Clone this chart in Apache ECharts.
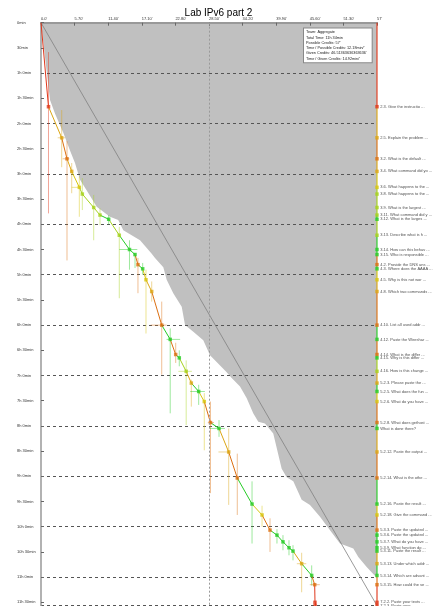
<!DOCTYPE html>
<html>
<head>
<meta charset="utf-8">
<title>Lab IPv6 part 2</title>
<script src="https://cdn.jsdelivr.net/npm/echarts@6/dist/echarts.min.js"></script>
<style>
  html, body { margin: 0; padding: 0; background: #fff; }
  #chart { width: 437px; height: 606px; }
</style>
</head>
<body>
<div id="chart"></div>
<script>
// question labels shown on the right edge
var questions = [
  '2.3. Give the instructio ...', '2.5. Explain the problem ...', '3.2. What is the default ...',
  '3.4. What command did yo ...', '3.6. What happens to the ...', '3.8. What happens to the ...',
  '3.9. What is the largest ...', '3.11. What command did y ...', '3.12. What is the larges ...',
  '3.13. Describe what is h ...', '3.14. How can this behav ...', '3.15. Who is responsible ...',
  '4.2. Provide the DNS ans ...', '4.3. Where does the AAAA ...', '4.5. Why is this not wor ...',
  '4.8. Which two commands ...', '4.10. List all used addr ...', '4.12. Paste the Wireshar ...',
  '4.14. What is the differ ...', '4.15. Why is this differ ...', '4.16. How is this change ...',
  '5.2.3. Please paste the ...', '5.2.5. What does the fun ...', '5.2.6. What do you have ...',
  '5.2.8. What does gethost ...', 'What is done there?', '5.2.12. Paste the output ...',
  '5.2.14. What is the othe ...', '5.2.16. Paste the result ...', '5.2.18. Give the command ...',
  '5.3.3. Paste the updated ...', '5.3.6. Paste the updated ...', '5.3.7. What do you have ...',
  '5.3.9. What function do ...', '5.3.11. Paste the result ...', '5.3.13. Under which addr ...',
  '5.3.14. Which are advant ...', '5.3.15. How could the se ...', '7.2.2. Paste your texts ...',
  '7.2.3. Paste your ...'
]
// cumulative credits and cumulative time (minutes) per answered question
var credits = [1.27, 3.51, 4.41, 5.21, 6.5, 7.01, 8.94, 10.01, 11.48, 13.28, 15.01, 15.95, 16.45, 17.25,
  17.81, 18.78, 20.48, 21.92, 22.85, 23.46, 24.63, 25.5, 26.75, 27.7, 28.75, 30.2, 31.84, 33.3, 35.8,
  37.5, 38.85, 40.03, 41.05, 42.07, 42.75, 44.22, 45.92, 46.43, 46.48, 46.51]
var minutes = [100, 137, 162, 177, 196, 204, 220, 229, 234, 253, 270, 276, 288, 293, 306, 320, 360,
  377, 395, 399, 415, 429, 439, 451, 476, 483, 511, 542, 573, 586, 604, 610, 618, 625, 629, 644, 658,
  669, 690, 694]
// spread of the teams (time / credits)
var timeLow = [35, 104, 141, 167, 183, 185, 205, 221, 229, 243, 259, 274, 280, 286, 294, 308, 332,
  364, 381, 390, 402, 425, 431, 441, 451, 473, 483, 513, 546, 575, 590, 603, 610, 616, 622, 631, 646,
  null, null, null]
var timeHigh = [227, 172, 283, 203, 231, 223, 259, 241, 240, 328, 294, 292, 322, 300, 370, 332, 419,
  465, 405, 409, 479, 457, 455, 509, 560, 493, 574, 586, 620, 600, 630, 620, 628, 634, 640, 678, 670,
  null, null, null]
var creditLow = [null, 2.83, 3.68, null, 5.2, null, null, null, null, null, 13.28, null, null, null,
  null, null, 18.6, 21.3, null, null, 23.3, null, 25.3, null, 28.3, 28.67, 30.1, null, null, null,
  null, null, null, null, null, 43.4, null, 45.6, null, null]
var creditHigh = [null, 4.07, 4.8, null, 6.6, null, null, null, null, null, 16.34, null, null, null,
  null, null, 21.3, 23.6, null, null, 25.6, null, 27.8, null, 29.35, 31.2, 32.06, null, null, null,
  null, null, null, null, null, 45, null, 47.3, null, null]

var R = '#e0381c', O = '#dc7012', YO = '#dca614', Y = '#d8c60e', YG = '#a6d21c', G = '#26cc26'
var colors = [R, YO, O, YO, Y, YG, YG, YG, G, YG, G, G, O, G, Y, YO, O, G, O, G, YG, YO, G, Y, O, G,
  YO, O, G, Y, O, G, G, G, G, YO, G, O, R, R]

// best-team boundary of the gray area
var bestCredits = [0, 1.53, 2.37, 3.78, 4.92, 5.77, 6.62, 7.97, 9.45, 11.7, 13.1, 13.96, 16.8, 18.78,
  19.34, 20.75, 21.32, 22.44, 23.87, 24.43, 25.84, 27.53, 28.67, 31.5, 32.35, 33.76, 34.9, 36.0,
  36.86, 38.0, 39.4, 40.83, 41.68, 42.8, 44.22, 45.63, 47.33, 49.0, 50.72, 52.98, 53.83, 55.25, 57]
var bestMinutes = [0, 92, 108, 131, 152, 167, 187, 202, 219, 231, 235, 247, 259, 275, 280, 291, 306,
  322, 338, 360, 368, 378, 396, 416, 423, 433, 447, 465, 475, 477, 489, 531, 541, 546, 568, 574, 588,
  604, 620, 626, 636, 648, 661]

var possibleCredits = 57
var totalMinutes = 694
var xTicks = 5.7
var yTicks = 30
var hourLines = 60
var infoLines = [
  'Team: Aggregate',
  'Total Time: 11h 34min',
  "Possible Credits: 57'",
  "Time / Possible Credits: 12.18min/'",
  "Given Credits: 46.51363636363636'",
  "Time / Given Credits: 14.92min/'"
]

function fmtTime(m) {
  var h = Math.floor(m / 60)
  var r = Math.round(m % 60)
  return h ? h + 'h ' + r + 'min' : r + 'min'
}

var chart = echarts.init(document.getElementById('chart'))

var points = credits.map(function(c, i) { return [c, minutes[i]] })
var pathSegs = credits.map(function(c, i) {
  var from = i === 0 ? [0, 0] : [credits[i - 1], minutes[i - 1]]
  return { coords: [from, [c, minutes[i]]], lineStyle: { color: colors[i] } }
})
var edgeSegs = minutes.map(function(m, i) {
  var from = i === 0 ? 0 : minutes[i - 1]
  return { coords: [[possibleCredits, from], [possibleCredits, m]], lineStyle: { color: colors[i] } }
})

var font = 'Liberation Sans, Arial, sans-serif'

chart.setOption({
  animation: false,
  backgroundColor: '#fff',
  title: {
    text: 'Lab IPv6 part 2',
    left: 'center',
    top: 3,
    textStyle: { fontSize: 10, fontWeight: 'normal', color: '#000', fontFamily: font }
  },
  grid: { left: 41, top: 22.7, width: 336, height: 583, outerBoundsMode: 'none' },
  xAxis: {
    type: 'value',
    position: 'top',
    min: 0,
    max: possibleCredits,
    interval: xTicks,
    axisLine: { lineStyle: { color: '#999', width: 2 } },
    axisTick: { inside: true, length: 3, lineStyle: { color: '#666' } },
    axisLabel: {
      fontSize: 4, color: '#333', margin: 2, align: 'left', fontFamily: font,
      formatter: function(v) {
        if (v === 0) return "0.0'"
        if (Math.abs(v - possibleCredits) < 0.001) return possibleCredits + "'"
        return v.toFixed(2) + "'"
      }
    },
    splitLine: { show: false }
  },
  yAxis: [
    {
      type: 'value',
      inverse: true,
      min: 0,
      max: totalMinutes,
      interval: yTicks,
      axisLine: { show: true, lineStyle: { color: '#999', width: 1.5 } },
      axisTick: { inside: true, length: 3, lineStyle: { color: '#666' } },
      axisLabel: { fontSize: 4, color: '#333', align: 'left', margin: 24, fontFamily: font,
        showMaxLabel: false, formatter: fmtTime },
      splitLine: { show: false }
    },
    {
      type: 'value',
      inverse: true,
      min: 0,
      max: totalMinutes,
      interval: hourLines,
      axisLine: { show: false },
      axisTick: { show: false },
      axisLabel: { show: false },
      splitLine: { show: true, lineStyle: { color: '#555', type: [3, 3], width: 1 } }
    }
  ],
  graphic: [{
    type: 'text',
    left: 303,
    top: 27.5,
    z: 100,
    style: {
      text: infoLines.join('\n'),
      fontSize: 3.8,
      lineHeight: 5.3,
      fontFamily: font,
      fill: '#222',
      backgroundColor: '#fff',
      borderColor: '#888',
      borderWidth: 1,
      padding: [1, 5, 1, 2]
    }
  }],
  series: [
    {
      // gray area above the best-team curve
      type: 'line',
      z: -1,
      data: bestCredits.map(function(c, i) { return [c, bestMinutes[i]] }),
      symbol: 'none',
      lineStyle: { width: 0 },
      areaStyle: { color: '#c0c0c0', opacity: 1, origin: 'start' },
      silent: true
    },
    {
      // constant pace reference line
      type: 'line',
      z: 1,
      data: [[0, 0], [possibleCredits, totalMinutes]],
      symbol: 'none',
      lineStyle: { color: '#808080', width: 0.8 },
      markLine: {
        silent: true,
        symbol: 'none',
        label: { show: false },
        lineStyle: { color: '#999', type: [2, 2], width: 1 },
        data: [{ xAxis: possibleCredits / 2 }]
      }
    },
    {
      // error bars
      type: 'custom',
      z: 2,
      data: points,
      renderItem: function(params, api) {
        var i = params.dataIndex
        var kids = []
        if (timeLow[i] != null) {
          var a = api.coord([credits[i], timeLow[i]])
          var b = api.coord([credits[i], timeHigh[i]])
          kids.push({ type: 'line', shape: { x1: a[0], y1: a[1], x2: b[0], y2: b[1] },
            style: { stroke: colors[i], lineWidth: 1, opacity: 0.45 } })
        }
        if (creditLow[i] != null) {
          var c = api.coord([creditLow[i], minutes[i]])
          var d = api.coord([creditHigh[i], minutes[i]])
          kids.push({ type: 'line', shape: { x1: c[0], y1: c[1], x2: d[0], y2: d[1] },
            style: { stroke: colors[i], lineWidth: 1, opacity: 0.45 } })
        }
        return { type: 'group', children: kids }
      }
    },
    {
      type: 'lines',
      coordinateSystem: 'cartesian2d',
      z: 3,
      data: pathSegs,
      lineStyle: { width: 1, opacity: 1 }
    },
    {
      type: 'lines',
      coordinateSystem: 'cartesian2d',
      z: 3,
      data: edgeSegs,
      lineStyle: { width: 1.5, opacity: 0.75 }
    },
    {
      type: 'scatter',
      z: 4,
      symbol: 'rect',
      symbolSize: 3.5,
      data: points.map(function(p, i) { return { value: p, itemStyle: { color: colors[i] } } })
    },
    {
      type: 'scatter',
      z: 4,
      symbol: 'rect',
      symbolSize: 3.5,
      data: minutes.map(function(m, i) { return { value: [possibleCredits, m], itemStyle: { color: colors[i] } } }),
      label: {
        show: true,
        position: 'right',
        distance: 1.5,
        fontSize: 4,
        color: '#222',
        fontFamily: font,
        formatter: function(p) { return questions[p.dataIndex] }
      },
      labelLayout: { moveOverlap: 'shiftY' }
    }
  ]
})
</script>
</body>
</html>
